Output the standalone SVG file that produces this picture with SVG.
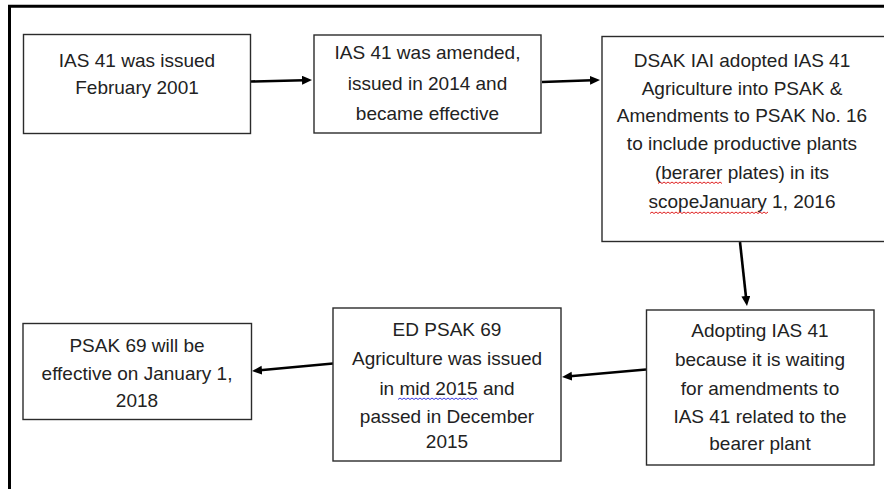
<svg xmlns="http://www.w3.org/2000/svg" width="884" height="489" viewBox="0 0 884 489">
<defs>
<style>
.box{fill:#fff;stroke:#2b2b2b;stroke-width:1.4}
.t{font-family:"Liberation Sans",Arial,sans-serif;font-size:19px;fill:#222;text-anchor:middle}
.c{fill:none;stroke:#000;stroke-width:2.6}
.frame{fill:none;stroke:#000;stroke-width:3}
.sq{fill:none;stroke-width:1}
</style>
<marker id="ah" markerUnits="userSpaceOnUse" markerWidth="12" markerHeight="10" refX="2" refY="4.5" orient="auto">
<path d="M0,0 L10,4.5 L0,9 z" fill="#000"/>
</marker>
</defs>
<rect width="884" height="489" fill="#fff"/>
<path class="frame" d="M9.5,489 V6.3 H884"/>

<g id="connectors">
<line class="c" x1="251" y1="81.5" x2="304" y2="80.2" marker-end="url(#ah)"/>
<line class="c" x1="542" y1="82" x2="592" y2="80.3" marker-end="url(#ah)"/>
<line class="c" x1="740" y1="242" x2="746.1" y2="298" marker-end="url(#ah)"/>
<line class="c" x1="646" y1="369.5" x2="570" y2="376.3" marker-end="url(#ah)"/>
<line class="c" x1="333" y1="363.5" x2="260" y2="370.3" marker-end="url(#ah)"/>
</g>

<g id="n1">
<rect class="box" x="23.5" y="34.5" width="227" height="99"/>
<text class="t" x="137" y="66.5">IAS 41 was issued</text>
<text class="t" x="137" y="93.5">February 2001</text>
</g>

<g id="n2">
<rect class="box" x="314" y="35" width="227" height="98"/>
<text class="t" x="427.5" y="58.5">IAS 41 was amended,</text>
<text class="t" x="427.5" y="89.5">issued in 2014 and</text>
<text class="t" x="427.5" y="119.5">became effective</text>
</g>

<g id="n3">
<rect class="box" x="602" y="36.5" width="290" height="205"/>
<text class="t" x="742" y="66.5">DSAK IAI adopted IAS 41</text>
<text class="t" x="742" y="94.5">Agriculture into PSAK &amp;</text>
<text class="t" x="742" y="121.5">Amendments to PSAK No. 16</text>
<text class="t" x="742" y="149.5">to include productive plants</text>
<text class="t" x="742" y="178.5">(berarer plates) in its</text>
<text class="t" x="742" y="207.5">scopeJanuary 1, 2016</text>
<path class="sq" stroke="#e02020" d="M658,183.5 l2,-1.5 l2,1.5 l2,-1.5 l2,1.5 l2,-1.5 l2,1.5 l2,-1.5 l2,1.5 l2,-1.5 l2,1.5 l2,-1.5 l2,1.5 l2,-1.5 l2,1.5 l2,-1.5 l2,1.5 l2,-1.5 l2,1.5 l2,-1.5 l2,1.5 l2,-1.5 l2,1.5 l2,-1.5 l2,1.5 l2,-1.5 l2,1.5 l2,-1.5 l2,1.5 l2,-1.5 l2,1.5 l2,-1.5 l2,1.5"/>
<path class="sq" stroke="#e02020" d="M650,213.5 l2,-1.5 l2,1.5 l2,-1.5 l2,1.5 l2,-1.5 l2,1.5 l2,-1.5 l2,1.5 l2,-1.5 l2,1.5 l2,-1.5 l2,1.5 l2,-1.5 l2,1.5 l2,-1.5 l2,1.5 l2,-1.5 l2,1.5 l2,-1.5 l2,1.5 l2,-1.5 l2,1.5 l2,-1.5 l2,1.5 l2,-1.5 l2,1.5 l2,-1.5 l2,1.5 l2,-1.5 l2,1.5 l2,-1.5 l2,1.5 l2,-1.5 l2,1.5 l2,-1.5 l2,1.5 l2,-1.5 l2,1.5 l2,-1.5 l2,1.5 l2,-1.5 l2,1.5 l2,-1.5 l2,1.5 l2,-1.5 l2,1.5 l2,-1.5 l2,1.5 l2,-1.5 l2,1.5 l2,-1.5 l2,1.5 l2,-1.5 l2,1.5 l2,-1.5 l2,1.5 l2,-1.5 l2,1.5 l2,-1.5"/>
</g>

<g id="n4">
<rect class="box" x="646.5" y="310" width="227.5" height="155"/>
<text class="t" x="760" y="336.5">Adopting IAS 41</text>
<text class="t" x="760" y="365.5">because it is waiting</text>
<text class="t" x="760" y="394.5">for amendments to</text>
<text class="t" x="760" y="422.5">IAS 41 related to the</text>
<text class="t" x="760" y="449.5">bearer plant</text>
</g>

<g id="n5">
<rect class="box" x="333" y="308" width="228" height="153"/>
<text class="t" x="447" y="335.5">ED PSAK 69</text>
<text class="t" x="447" y="364.5">Agriculture was issued</text>
<text class="t" x="447" y="394.5">in mid 2015 and</text>
<text class="t" x="447" y="423">passed in December</text>
<text class="t" x="447" y="447.5">2015</text>
<path class="sq" stroke="#3a3ae0" d="M398,399.5 l2,-1.5 l2,1.5 l2,-1.5 l2,1.5 l2,-1.5 l2,1.5 l2,-1.5 l2,1.5 l2,-1.5 l2,1.5 l2,-1.5 l2,1.5 l2,-1.5 l2,1.5 l2,-1.5 l2,1.5 l2,-1.5 l2,1.5 l2,-1.5 l2,1.5 l2,-1.5 l2,1.5 l2,-1.5 l2,1.5 l2,-1.5 l2,1.5 l2,-1.5 l2,1.5 l2,-1.5 l2,1.5 l2,-1.5 l2,1.5 l2,-1.5 l2,1.5 l2,-1.5 l2,1.5 l2,-1.5 l2,1.5 l2,-1.5 l2,1.5"/>
</g>

<g id="n6">
<rect class="box" x="23" y="323.5" width="228.5" height="96"/>
<text class="t" x="137" y="351.5">PSAK 69 will be</text>
<text class="t" x="137" y="379.5">effective on January 1,</text>
<text class="t" x="137" y="406.5">2018</text>
</g>
</svg>
